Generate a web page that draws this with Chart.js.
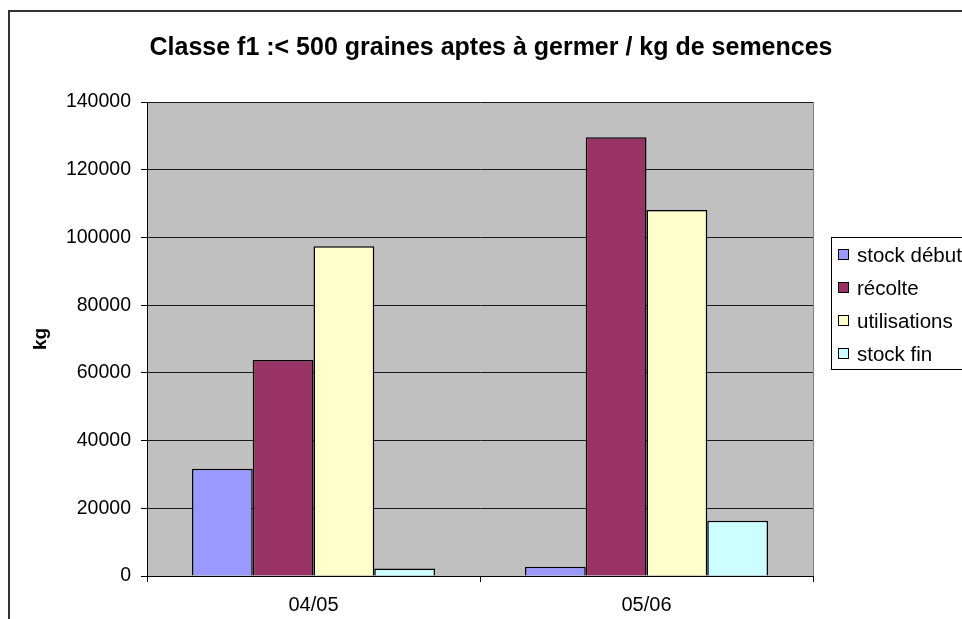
<!DOCTYPE html>
<html>
<head>
<meta charset="utf-8">
<script src="https://cdn.jsdelivr.net/npm/chart.js@4/dist/chart.umd.min.js"></script>
<style>
html,body{margin:0;padding:0;background:#fff;}
#wrap{width:962px;height:619px;position:relative;}
</style>
</head>
<body>
<div id="wrap"><canvas id="c" width="962" height="619"></canvas></div>
<script>
const chartTitle = "Classe f1 :< 500 graines aptes à germer / kg de semences";
const categories = ["04/05", "05/06"];
const seriesNames = ["stock début", "récolte", "utilisations", "stock fin"];
const stockDebut = [31700, 2700];
const recolte = [63800, 129600];
const utilisations = [97400, 108100];
const stockFin = [2200, 16300];
const seriesColors = ["#9999FF", "#993366", "#FFFFCC", "#CCFFFF"];
const yTicks = [0, 20000, 40000, 60000, 80000, 100000, 120000, 140000];
const yAxisTitle = "kg";

const FONT = "'Liberation Sans', Arial, sans-serif";
const seriesValues = [stockDebut, recolte, utilisations, stockFin];

const decor = {
  id: 'decor',
  beforeDraw(chart) {
    const ctx = chart.ctx, a = chart.chartArea;
    ctx.save();
    ctx.fillStyle = '#fff';
    ctx.fillRect(0, 0, chart.width, chart.height);
    ctx.strokeStyle = '#333';
    ctx.lineWidth = 2;
    ctx.strokeRect(9, 11, 1200, 1200);
    ctx.fillStyle = '#C0C0C0';
    ctx.fillRect(a.left, a.top, a.right - a.left, a.bottom - a.top);
    ctx.restore();
  },
  afterDraw(chart) {
    const ctx = chart.ctx, a = chart.chartArea;
    ctx.save();
    ctx.strokeStyle = '#808080';
    ctx.lineWidth = 1;
    ctx.beginPath();
    ctx.moveTo(a.right + 0.5, a.top);
    ctx.lineTo(a.right + 0.5, a.bottom);
    ctx.stroke();
    // title
    ctx.fillStyle = '#000';
    ctx.font = "bold 25px " + FONT;
    ctx.textAlign = 'center';
    ctx.textBaseline = 'middle';
    ctx.fillText(chartTitle, 491, 48);
    // legend
    ctx.fillStyle = '#fff';
    ctx.fillRect(831, 237, 200, 132);
    ctx.strokeStyle = '#000';
    ctx.lineWidth = 1;
    ctx.strokeRect(831.5, 237.5, 200, 132);
    ctx.font = "20.5px " + FONT;
    ctx.textAlign = 'left';
    chart.data.datasets.forEach((ds, i) => {
      const y = 255 + i * 33;
      ctx.fillStyle = ds.backgroundColor;
      ctx.fillRect(838.5, y - 5.5, 10, 10);
      ctx.strokeStyle = '#000';
      ctx.strokeRect(838.5, y - 5.5, 10, 10);
      ctx.fillStyle = '#000';
      ctx.fillText(ds.label, 857, y + 1);
    });
    ctx.restore();
  }
};

new Chart(document.getElementById('c'), {
  type: 'bar',
  data: {
    labels: categories,
    datasets: seriesNames.map((n, i) => ({
      label: n,
      data: seriesValues[i],
      backgroundColor: seriesColors[i],
      borderColor: '#000',
      borderWidth: 1.5,
      categoryPercentage: 0.73,
      barPercentage: 1.0
    }))
  },
  options: {
    responsive: false,
    animation: false,
    layout: { padding: { top: 102, right: 149, left: 0, bottom: 0 } },
    plugins: { legend: { display: false }, title: { display: false }, tooltip: { enabled: false } },
    scales: {
      x: {
        afterFit(s) { s.height = 43; },
        grid: { display: true, drawOnChartArea: false, drawTicks: true, tickLength: 6, color: '#000', tickColor: '#000', offset: true },
        border: { display: true, color: '#000', width: 1 },
        ticks: { color: '#000', font: { family: FONT, size: 20 }, padding: 11, maxRotation: 0 }
      },
      y: {
        min: 0, max: 140000,
        afterFit(s) { s.width = 147; },
        afterBuildTicks(s) { s.ticks = yTicks.map(v => ({ value: v })); },
        grid: { display: true, drawOnChartArea: true, drawTicks: true, tickLength: 6, color: '#1a1a1a', tickColor: '#000', lineWidth: 1 },
        border: { display: true, color: '#000', width: 1 },
        ticks: { color: '#000', font: { family: FONT, size: 19.5 }, padding: 10, callback: v => String(v) },
        title: { display: true, text: yAxisTitle, color: '#000', font: { family: FONT, size: 19, weight: 'bold' }, padding: { top: 29, bottom: 0 } }
      }
    }
  },
  plugins: [decor]
});
</script>
</body>
</html>
